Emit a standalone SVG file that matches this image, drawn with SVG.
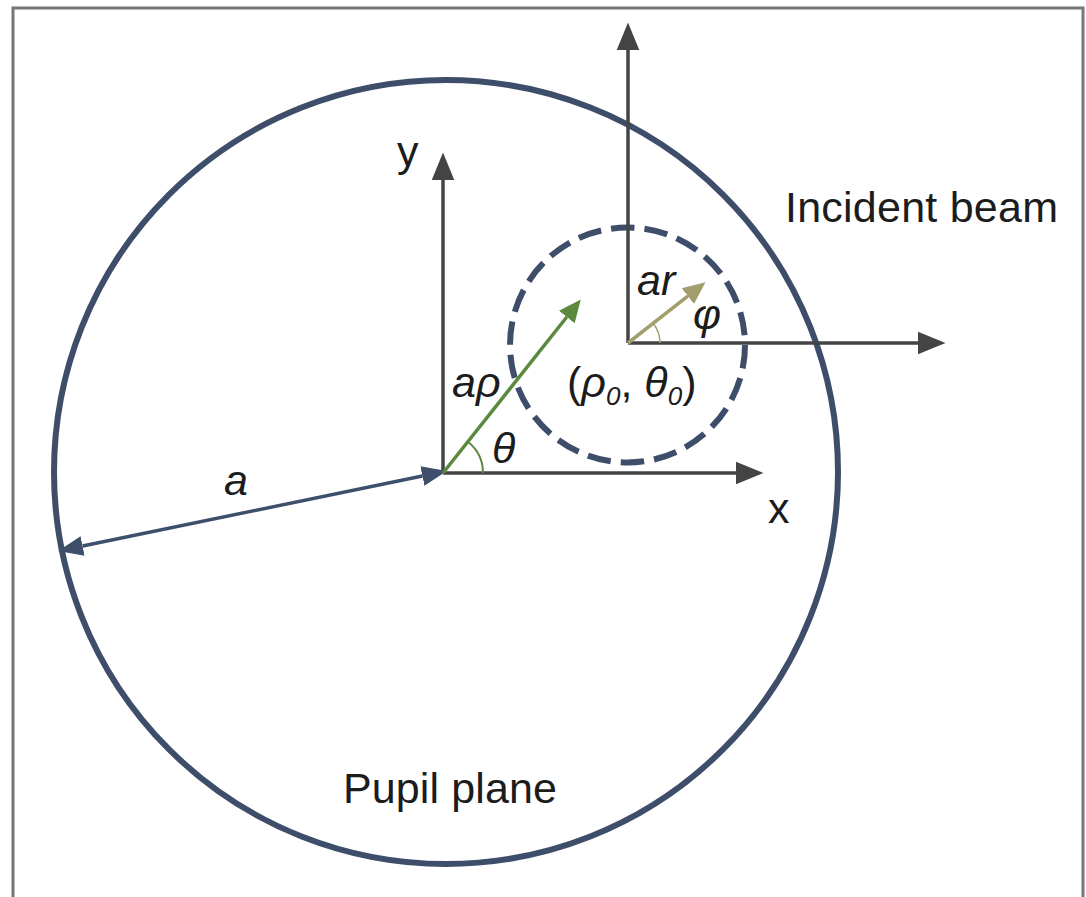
<svg xmlns="http://www.w3.org/2000/svg" width="1086" height="897" viewBox="0 0 1086 897">
<style>
.t{font-family:"Liberation Sans",Arial,sans-serif;font-size:43px;fill:#1c1c1c}
.i{font-style:italic}
.n{font-style:normal}
.ax{stroke:#444;stroke-width:3.5;fill:none}
.sub{font-size:26px}
</style>
<defs>
<marker id="ha" markerUnits="userSpaceOnUse" markerWidth="30" markerHeight="30" viewBox="0 -10 24 20" refX="0" refY="0" orient="auto"><path d="M0,-9 L22,0 L0,9 Z" fill="#444"/></marker>
<marker id="hb" markerUnits="userSpaceOnUse" markerWidth="30" markerHeight="30" viewBox="0 -10 24 20" refX="0" refY="0" orient="auto-start-reverse"><path d="M0,-8 L20,0 L0,8 Z" fill="#3d4f6b"/></marker>
<marker id="hg" markerUnits="userSpaceOnUse" markerWidth="30" markerHeight="30" viewBox="0 -10 24 20" refX="0" refY="0" orient="auto"><path d="M0,-8 L18,0 L0,8 Z" fill="#5b8a3f"/></marker>
<marker id="ht" markerUnits="userSpaceOnUse" markerWidth="30" markerHeight="30" viewBox="0 -10 24 20" refX="0" refY="0" orient="auto"><path d="M0,-8 L18,0 L0,8 Z" fill="#a39e6e"/></marker>
</defs>
<rect x="0" y="0" width="1086" height="897" fill="#fff"/>
<rect id="frame" x="13" y="8" width="1070" height="900" fill="none" stroke="#777" stroke-width="3"/>
<g id="pupil">
<circle cx="446" cy="472" r="392" fill="none" stroke="#3e4e6a" stroke-width="6"/>
<text class="t" x="343" y="803" textLength="214">Pupil plane</text>
</g>
<g id="beam">
<circle cx="627.5" cy="345" r="117.5" fill="none" stroke="#3e4e6a" stroke-width="6" stroke-dasharray="23.5 10.06"/>
<text class="t" x="785" y="222" textLength="273">Incident beam</text>
</g>
<g id="connectors">
<line class="ax" x1="443" y1="473" x2="443" y2="180" marker-end="url(#ha)"/>
<line class="ax" x1="443" y1="473" x2="736" y2="473" marker-end="url(#ha)"/>
<line class="ax" x1="628" y1="343" x2="628" y2="50" marker-end="url(#ha)"/>
<line class="ax" x1="628" y1="343" x2="918" y2="343" marker-end="url(#ha)"/>
<line x1="82.6" y1="546" x2="422.4" y2="476" stroke="#3d4f6b" stroke-width="3.5" marker-start="url(#hb)" marker-end="url(#hb)"/>
<line x1="443" y1="473" x2="566.8" y2="317" stroke="#5b8a3f" stroke-width="3.5" marker-end="url(#hg)"/>
<line x1="628" y1="343" x2="687.8" y2="296.1" stroke="#a39e6e" stroke-width="3.5" marker-end="url(#ht)"/>
<path d="M483,473 A40,40 0 0 0 467.9,441.7" fill="none" stroke="#5b8a3f" stroke-width="2"/>
<path d="M660,343 A32,32 0 0 0 653.2,323.3" fill="none" stroke="#a39e6e" stroke-width="1.5"/>
</g>
<g id="labels">
<text class="t" x="397" y="166">y</text>
<text class="t" x="768" y="523">x</text>
<text class="t i" x="224" y="495">a</text>
<text class="t i" x="452" y="397">aρ</text>
<text class="t i" x="492" y="463">θ</text>
<text class="t" x="567" y="397">(<tspan class="i">ρ</tspan><tspan class="sub i" dy="8">0</tspan><tspan dy="-8">, </tspan><tspan class="i">θ</tspan><tspan class="sub i" dy="8">0</tspan><tspan dy="-8">)</tspan></text>
<text class="t i" x="637" y="295">ar</text>
<text class="t i" x="693" y="329">φ</text>
</g>
</svg>
